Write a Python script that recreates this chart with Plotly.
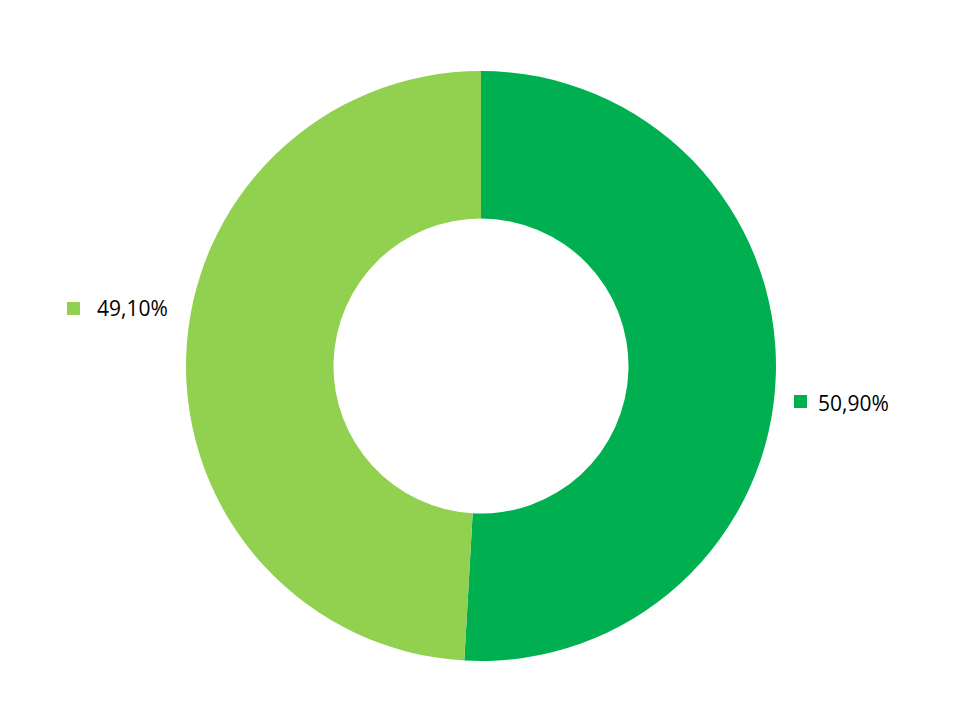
import plotly.graph_objects as go

labels = ["A", "B"]
values = [50.90, 49.10]
colors = ["#00B050", "#92D050"]
label_texts = ["50,90%", "49,10%"]

W, H = 960, 720
OFF = 8  # page body margin
cx, cy, R = 481 - OFF, 366 - OFF, 295

fig = go.Figure(go.Pie(
    labels=labels, values=values, sort=False, direction="clockwise", rotation=0,
    hole=0.5, textinfo="none", hoverinfo="label+percent",
    marker=dict(colors=colors, line=dict(width=0)),
    domain=dict(x=[(cx - R) / W, (cx + R) / W], y=[(H - cy - R) / H, (H - cy + R) / H]),
    showlegend=False,
))

# label placement (pixel positions of Excel-style data labels): square left/top, text left, text center y
label_pos = [(794, 395, 816, 403), (67, 302, 95, 308)]
shapes, annots = [], []
for (sx, sy, tx, ty), txt, col in zip(label_pos, label_texts, colors):
    sx, sy, tx, ty = sx - OFF, sy - OFF, tx - OFF, ty - OFF
    shapes.append(dict(type="rect", xref="paper", yref="paper",
                       x0=sx / W, x1=(sx + 13) / W, y0=(H - sy - 13) / H, y1=(H - sy) / H,
                       fillcolor=col, line=dict(width=0)))
    annots.append(dict(xref="paper", yref="paper", x=tx / W, y=(H - ty) / H,
                       xanchor="left", yanchor="middle", showarrow=False, text=txt,
                       font=dict(family="Open Sans", size=21, color="#000000")))

fig.update_layout(width=W, height=H, margin=dict(l=0, r=0, t=0, b=0),
                  paper_bgcolor="white", plot_bgcolor="white",
                  shapes=shapes, annotations=annots)
fig.write_html("out.html")
